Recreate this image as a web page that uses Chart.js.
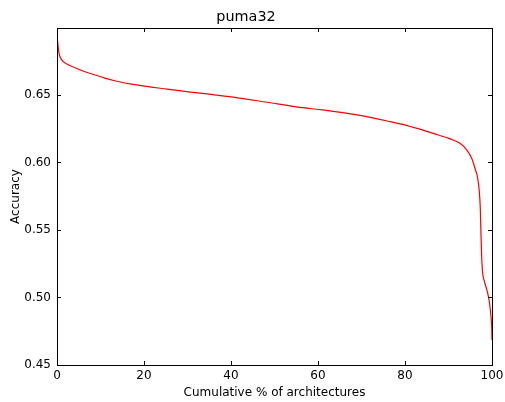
<!DOCTYPE html>
<html>
<head>
<meta charset="utf-8">
<script src="https://cdn.jsdelivr.net/npm/chart.js@4"></script>
<style>
  html, body { margin: 0; padding: 0; background: #fff; }
  #wrap { width: 505px; height: 402px; }
</style>
</head>
<body>
<div id="wrap"><canvas id="myChart" width="505" height="402"></canvas></div>
<script>
const myChart = document.getElementById("myChart");

// cumulative % of architectures (x) and accuracy (y)
const xValues = [
  0, 0.16, 0.46, 1.08, 2.23, 4.14, 6.44, 8.74, 11.0, 13.3, 17.5, 25.3, 32.9,
  40.5, 48.3, 55.9, 61.1, 69.0, 76.6, 80.5, 84.1, 87.5, 90.34, 92.64, 94.18,
  95.33, 96.09, 96.71, 97.08, 97.31, 97.47, 97.63, 97.86, 98.16, 98.92, 99.38,
  99.77, 99.93, 100,
];
const yValues = [
  0.694, 0.689, 0.681, 0.676, 0.673, 0.6702, 0.6672, 0.6648, 0.6625, 0.6605,
  0.6578, 0.6543, 0.6513, 0.6484, 0.6446, 0.6408, 0.6389, 0.6352, 0.6302,
  0.6273, 0.624, 0.6205, 0.6175, 0.6142, 0.6093, 0.6031, 0.5957, 0.5883,
  0.5784, 0.566, 0.5463, 0.53, 0.518, 0.513, 0.5043, 0.497, 0.4858, 0.4784,
  0.4685,
];
const yTicks = [0.45, 0.5, 0.55, 0.6, 0.65];
const xTicks = [0, 20, 40, 60, 80, 100];

const points = xValues.map((x, i) => ({ x: x, y: yValues[i] }));

// matplotlib style frame with inward ticks on all four sides
const frame = {
  id: "frame",
  afterDraw(chart) {
    const ctx = chart.ctx;
    const a = chart.chartArea;
    const xs = chart.scales.x;
    const ys = chart.scales.y;
    ctx.save();
    ctx.strokeStyle = "#000";
    ctx.lineWidth = 1;
    ctx.strokeRect(Math.round(a.left) + 0.5, Math.round(a.top) + 0.5,
      Math.round(a.right - a.left), Math.round(a.bottom - a.top));
    ctx.beginPath();
    xTicks.forEach((t) => {
      const px = Math.round(xs.getPixelForValue(t)) + 0.5;
      ctx.moveTo(px, a.bottom);
      ctx.lineTo(px, a.bottom - 4);
      ctx.moveTo(px, a.top);
      ctx.lineTo(px, a.top + 4);
    });
    yTicks.forEach((t) => {
      const py = Math.round(ys.getPixelForValue(t)) + 0.5;
      ctx.moveTo(a.left, py);
      ctx.lineTo(a.left + 4, py);
      ctx.moveTo(a.right, py);
      ctx.lineTo(a.right - 4, py);
    });
    ctx.stroke();
    ctx.restore();
  },
};

Chart.defaults.font.family = "'DejaVu Sans', sans-serif";
Chart.defaults.color = "#000";

new Chart(myChart, {
  type: "line",
  data: {
    datasets: [
      {
        data: points,
        borderColor: "#ff0000",
        borderWidth: 1.2,
        pointRadius: 0,
        cubicInterpolationMode: "monotone",
        fill: false,
      },
    ],
  },
  options: {
    responsive: false,
    animation: false,
    layout: { padding: { left: 0, right: 13, top: 0, bottom: 0 } },
    plugins: {
      legend: { display: false },
      tooltip: { enabled: false },
      title: {
        display: true,
        text: "puma32",
        font: { size: 14.4, weight: "normal" },
        padding: { top: 8.8, bottom: 1.9 },
      },
    },
    scales: {
      x: {
        type: "linear",
        min: 0,
        max: 100,
        afterBuildTicks: (s) => { s.ticks = xTicks.map((v) => ({ value: v })); },
        afterFit: (s) => { s.height = 37; s.paddingLeft = 0; s.paddingRight = 0; },
        grid: { display: false, drawTicks: false },
        border: { display: false },
        ticks: { font: { size: 12 }, padding: 4, maxRotation: 0 },
        title: {
          display: true,
          text: "Cumulative % of architectures",
          font: { size: 12 },
          padding: { top: 0, bottom: 2 },
        },
      },
      y: {
        type: "linear",
        min: 0.45,
        max: 0.6996,
        afterBuildTicks: (s) => { s.ticks = yTicks.map((v) => ({ value: v })); },
        afterFit: (s) => { s.width = 57; s.paddingTop = 0; s.paddingBottom = 0; },
        grid: { display: false, drawTicks: false },
        border: { display: false },
        ticks: { font: { size: 12 }, padding: 6, callback: (v) => v.toFixed(2) },
        title: {
          display: true,
          text: "Accuracy",
          font: { size: 12 },
          padding: { top: 9, bottom: 0 },
        },
      },
    },
  },
  plugins: [frame],
});
</script>
</body>
</html>
